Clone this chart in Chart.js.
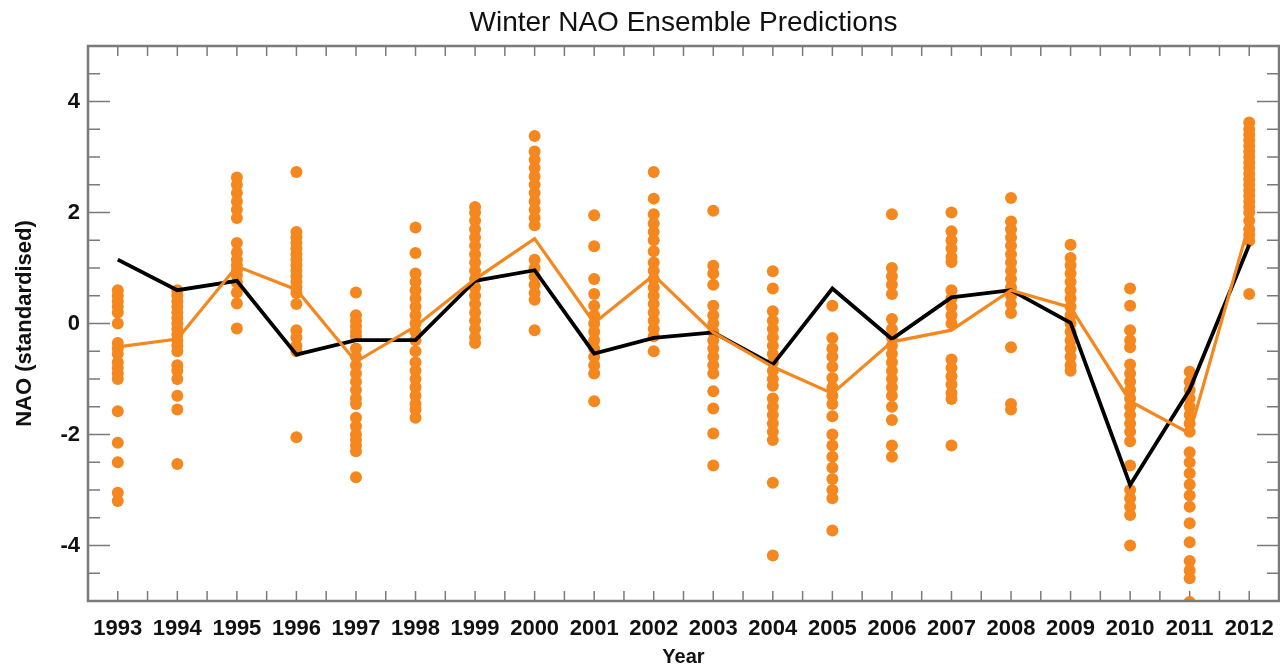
<!DOCTYPE html>
<html>
<head>
<meta charset="utf-8">
<script src="https://cdn.jsdelivr.net/npm/chart.js@4"></script>
<style>
	html, body { margin: 0; padding: 0; background: #fff; overflow: hidden; }
	#wrap { position: relative; width: 1280px; height: 667px; }
</style>
</head>
<body>
<div id="wrap"><canvas id="chart"></canvas></div>
<script>
// winter NAO: observed index, ensemble mean and the single members
const years = [1993, 1994, 1995, 1996, 1997, 1998, 1999, 2000, 2001, 2002,
	2003, 2004, 2005, 2006, 2007, 2008, 2009, 2010, 2011, 2012];

const observed = [1.15, 0.6, 0.77, -0.56, -0.3, -0.3, 0.77, 0.96, -0.54, -0.26,
	-0.16, -0.74, 0.63, -0.28, 0.47, 0.6, 0.01, -2.91, -1.19, 1.42];

const ensembleMean = [-0.42, -0.28, 1.03, 0.61, -0.69, -0.05, 0.8, 1.53, 0.01, 0.87,
	-0.16, -0.78, -1.26, -0.33, -0.12, 0.6, 0.29, -1.4, -1.98, 1.8];

// one list of member values per year, same order as years
const members = [
	[0.6, 0.5, 0.4, 0.3, 0.2, 0.0, -0.35, -0.45, -0.55, -0.7, -0.8, -0.9, -1.0, -1.58, -2.15, -2.5, -3.05, -3.2],
	[0.6, 0.5, 0.4, 0.3, 0.2, 0.1, 0.0, -0.1, -0.2, -0.3, -0.4, -0.5, -0.75, -0.85, -1.0, -1.3, -1.55, -2.53],
	[2.63, 2.5, 2.35, 2.2, 2.05, 1.9, 1.45, 1.28, 1.15, 1.05, 0.95, 0.87, 0.74, 0.56, 0.36, -0.09],
	[2.73, 1.65, 1.55, 1.45, 1.35, 1.25, 1.15, 1.05, 0.95, 0.85, 0.75, 0.65, 0.55, 0.35, -0.12, -0.25, -0.4, -0.5, -2.05],
	[0.56, 0.15, 0.05, -0.05, -0.15, -0.23, -0.45, -0.6, -0.75, -0.9, -1.05, -1.2, -1.35, -1.45, -1.7, -1.85, -2.0, -2.1, -2.2, -2.3, -2.77],
	[1.73, 1.27, 0.9, 0.75, 0.6, 0.45, 0.3, 0.15, 0.0, -0.15, -0.3, -0.5, -0.7, -0.85, -1.0, -1.15, -1.3, -1.45, -1.55, -1.7],
	[2.1, 2.0, 1.85, 1.7, 1.55, 1.4, 1.25, 1.1, 0.95, 0.8, 0.65, 0.5, 0.35, 0.2, 0.05, -0.1, -0.25, -0.35],
	[3.38, 3.1, 2.95, 2.8, 2.65, 2.5, 2.35, 2.2, 2.05, 1.9, 1.77, 1.15, 1.0, 0.85, 0.7, 0.55, 0.43, -0.12],
	[1.95, 1.39, 0.8, 0.53, 0.32, 0.15, 0.0, -0.15, -0.3, -0.45, -0.6, -0.75, -0.9, -1.4],
	[2.73, 2.25, 1.97, 1.8, 1.65, 1.5, 1.3, 1.1, 0.95, 0.8, 0.65, 0.5, 0.35, 0.2, 0.05, -0.1, -0.23, -0.5],
	[2.03, 1.04, 0.9, 0.7, 0.32, 0.15, 0.0, -0.15, -0.3, -0.45, -0.6, -0.75, -0.9, -1.22, -1.53, -1.98, -2.56],
	[0.94, 0.63, 0.22, 0.05, -0.1, -0.25, -0.4, -0.55, -0.7, -0.85, -1.0, -1.12, -1.35, -1.5, -1.65, -1.8, -1.95, -2.1, -2.87, -4.18],
	[0.32, -0.26, -0.45, -0.6, -0.78, -0.98, -1.15, -1.3, -1.45, -1.67, -2.0, -2.2, -2.4, -2.6, -2.8, -3.0, -3.15, -3.73],
	[1.97, 1.0, 0.85, 0.7, 0.53, 0.08, -0.1, -0.25, -0.4, -0.55, -0.7, -0.85, -1.0, -1.15, -1.3, -1.5, -1.74, -2.2, -2.4],
	[2.0, 1.66, 1.5, 1.35, 1.2, 1.11, 0.6, 0.45, 0.3, 0.15, 0.0, -0.65, -0.8, -0.95, -1.1, -1.25, -1.36, -2.2],
	[2.26, 1.84, 1.7, 1.55, 1.4, 1.25, 1.1, 0.95, 0.8, 0.65, 0.5, 0.35, 0.19, -0.43, -1.45, -1.55],
	[1.42, 1.18, 1.05, 0.9, 0.75, 0.6, 0.45, 0.3, 0.15, 0.0, -0.15, -0.3, -0.45, -0.6, -0.75, -0.85],
	[0.63, 0.32, -0.12, -0.3, -0.43, -0.74, -0.9, -1.05, -1.2, -1.35, -1.5, -1.65, -1.8, -1.95, -2.12, -2.56, -3.0, -3.15, -3.3, -3.45, -4.0],
	[-0.87, -1.05, -1.2, -1.35, -1.5, -1.65, -1.8, -1.95, -2.32, -2.5, -2.7, -2.9, -3.1, -3.3, -3.6, -3.94, -4.28, -4.45, -4.59, -5.02],
	[3.62, 3.5, 3.4, 3.3, 3.2, 3.1, 3.0, 2.9, 2.8, 2.7, 2.6, 2.5, 2.4, 2.3, 2.2, 2.1, 2.0, 1.85, 1.7, 1.6, 1.49, 0.53],
];

const yMajor = [-4, -2, 0, 2, 4];

const ORANGE = '#f5871f';
const FRAME = '#7a7a7a';

const pointsOf = (values) => values.map((v, i) => ({x: years[i], y: v}));

const memberPoints = [];
members.forEach((list, i) => {
	list.forEach((v) => memberPoints.push({x: years[i], y: v}));
});

// IDL style box: inward ticks on all four sides
const frameTicks = {
	id: 'frameTicks',
	beforeDatasetsDraw(chart) {
		const {ctx, chartArea: a, scales: {x, y}} = chart;
		ctx.save();
		ctx.strokeStyle = FRAME;
		ctx.lineWidth = 1.5;
		ctx.beginPath();
		x.ticks.forEach((t) => {
			const px = x.getPixelForValue(t.value);
			ctx.moveTo(px, a.bottom);
			ctx.lineTo(px, a.bottom - 10);
			ctx.moveTo(px, a.top);
			ctx.lineTo(px, a.top + 10);
		});
		y.ticks.forEach((t) => {
			const py = y.getPixelForValue(t.value);
			const len = yMajor.includes(t.value) ? 22 : 12;
			ctx.moveTo(a.left, py);
			ctx.lineTo(a.left + len, py);
			ctx.moveTo(a.right, py);
			ctx.lineTo(a.right - len, py);
		});
		ctx.stroke();
		ctx.restore();
	},
	afterDraw(chart) {
		const {ctx, chartArea: a} = chart;
		ctx.save();
		ctx.strokeStyle = FRAME;
		ctx.lineWidth = 2.5;
		ctx.strokeRect(a.left, a.top, a.right - a.left, a.bottom - a.top);
		ctx.restore();
	},
};

Chart.defaults.font.family = '"Liberation Sans", Arial, sans-serif';
Chart.defaults.color = '#111';

new Chart(document.getElementById('chart'), {
	type: 'scatter',
	data: {
		datasets: [
			{
				label: 'Ensemble mean',
				data: pointsOf(ensembleMean),
				showLine: true,
				borderColor: ORANGE,
				borderWidth: 3.2,
				pointRadius: 0,
			},
			{
				label: 'Observed',
				data: pointsOf(observed),
				showLine: true,
				borderColor: '#000',
				borderWidth: 3.8,
				pointRadius: 0,
			},
			{
				label: 'Members',
				data: memberPoints,
				backgroundColor: ORANGE,
				pointRadius: 6,
				pointBorderWidth: 0,
				clip: 0,
			},
		],
	},
	options: {
		responsive: true,
		maintainAspectRatio: false,
		animation: false,
		layout: {
			autoPadding: false,
			padding: {top: 0, right: 1, bottom: 0, left: 0},
		},
		plugins: {
			legend: {display: false},
			tooltip: {enabled: false},
			title: {
				display: true,
				text: 'Winter NAO Ensemble Predictions',
				fullSize: false,
				color: '#111',
				font: {size: 28, weight: 'normal', lineHeight: 1.2},
				padding: {top: 6, bottom: 6.4},
			},
		},
		scales: {
			x: {
				type: 'linear',
				min: 1992.5,
				max: 2012.5,
				afterFit: (scale) => {
					scale.height = 66;
					scale.paddingLeft = 0;
					scale.paddingRight = 0;
				},
				grid: {display: false, drawTicks: false},
				border: {display: false},
				ticks: {
					stepSize: 0.5,
					maxTicksLimit: 100,
					autoSkip: false,
					maxRotation: 0,
					padding: 15,
					font: {size: 22, weight: 'bold'},
					callback: (v) => (Number.isInteger(v) ? String(v) : ''),
				},
				title: {
					display: true,
					text: 'Year',
					font: {size: 20, weight: 'bold', lineHeight: 1.2},
					padding: {top: 0, bottom: -2},
				},
			},
			y: {
				min: -5,
				max: 5,
				afterFit: (scale) => { scale.width = 88; },
				grid: {display: false, drawTicks: false},
				border: {display: false},
				ticks: {
					stepSize: 0.5,
					maxTicksLimit: 100,
					autoSkip: false,
					padding: 8,
					font: {size: 22, weight: 'bold'},
					callback: (v) => (yMajor.includes(v) ? String(v) : ''),
				},
				title: {
					display: true,
					text: 'NAO (standardised)',
					font: {size: 22, weight: 'bold', lineHeight: 1.2},
					padding: {top: 12, bottom: 0},
				},
			},
		},
	},
	plugins: [frameTicks],
});
</script>
</body>
</html>
